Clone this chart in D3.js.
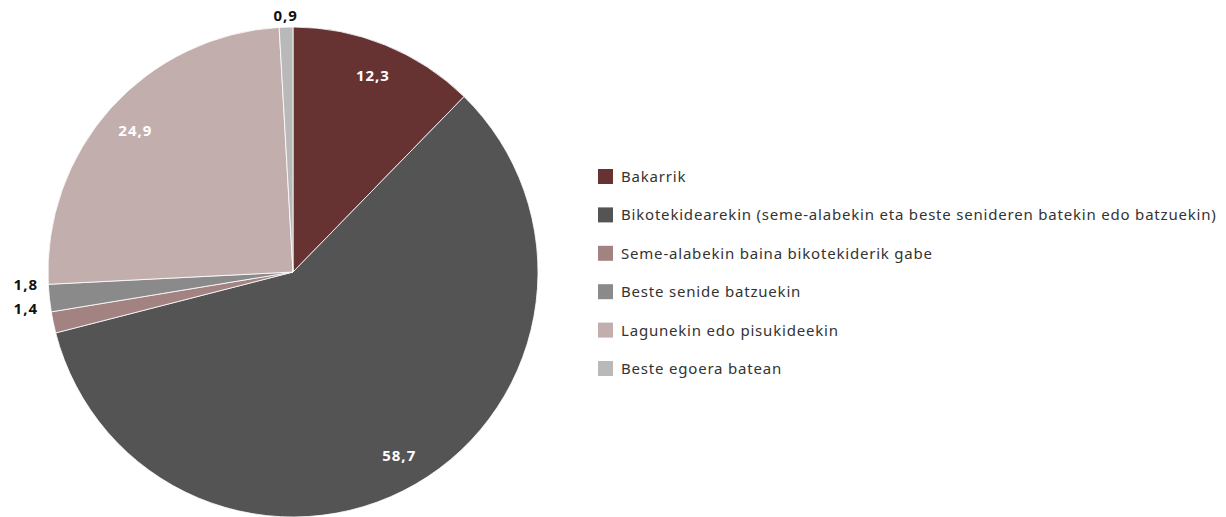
<!DOCTYPE html>
<html><head><meta charset="utf-8">
<script src="https://cdn.jsdelivr.net/npm/d3@7/dist/d3.min.js"></script>
<style>body{margin:0;background:#fff}svg{display:block}text{font-family:"Noto Sans",sans-serif}</style>
</head><body><svg id="c" width="1226" height="517"></svg>
<script>
const categories = ["Bakarrik","Bikotekidearekin (seme-alabekin eta beste senideren batekin edo batzuekin)","Seme-alabekin baina bikotekiderik gabe","Beste senide batzuekin","Lagunekin edo pisukideekin","Beste egoera batean"];
const values = [12.3, 58.7, 1.4, 1.8, 24.9, 0.9];
const labels = ["12,3","58,7","1,4","1,8","24,9","0,9"];
const colors = ["#673232","#545454","#a38282","#8a8a8a","#c3aeae","#b9b9b9"];

const svg = d3.select("#c");
const cx = 293, cy = 272, r = 245;
const data = categories.map((c,i)=>({c, v: values[i], l: labels[i], col: colors[i]}));
const pie = d3.pie().value(d=>d.v).sort(null);
const arcs = pie(data);
const arc = d3.arc().innerRadius(0).outerRadius(r);
const g = svg.append("g").attr("transform",`translate(${cx},${cy})`);
g.selectAll("path").data(arcs).join("path")
  .attr("d",arc).attr("fill",d=>d.data.col).attr("stroke","#fff").attr("stroke-width",0.8);

const inner = d3.arc().innerRadius(212).outerRadius(212);
const big = arcs.filter(d=>d.data.v>=5);
g.selectAll("text.in").data(big).join("text").attr("class","in")
  .attr("transform",d=>{const [x,y]=inner.centroid(d);return `translate(${x},${y})`;})
  .attr("text-anchor","middle").attr("dy","0.35em").attr("letter-spacing",1)
  .attr("fill","#fff").attr("font-weight","bold").attr("font-size",15).text(d=>d.data.l);

// small slices: labels outside
const small = arcs.filter(d=>d.data.v<5);
const pos = small.map(d=>{
  const a=(d.startAngle+d.endAngle)/2;
  return {d, a, x: Math.sin(a)*(r+14), y: -Math.cos(a)*(r+14)};
});
const left = pos.filter(p=>p.x<-50).sort((a,b)=>a.y-b.y);
left.forEach(p=>{p.x=-r-10;});
left.forEach((p,i)=>{p.y = 13 + i*24;});
pos.forEach(p=>{
  const top = p.x>=-50;
  g.append("text").attr("x", top? p.x : p.x).attr("y", top? -r-11 : p.y)
   .attr("text-anchor", top? "middle":"end").attr("dy","0.35em").attr("letter-spacing",1)
   .attr("fill","#111").attr("font-weight","bold").attr("font-size",15).text(p.d.data.l);
});

const lg = svg.append("g").attr("transform","translate(598,177)");
const row = lg.selectAll("g").data(data).join("g").attr("transform",(d,i)=>`translate(0,${i*38.4})`);
row.append("rect").attr("x",0).attr("y",-8).attr("width",15).attr("height",15).attr("fill",d=>d.col);
row.append("text").attr("x",23).attr("dy","0.33em").attr("font-size",15).attr("letter-spacing",0.8).attr("fill","#333").text(d=>d.c);
</script></body></html>
